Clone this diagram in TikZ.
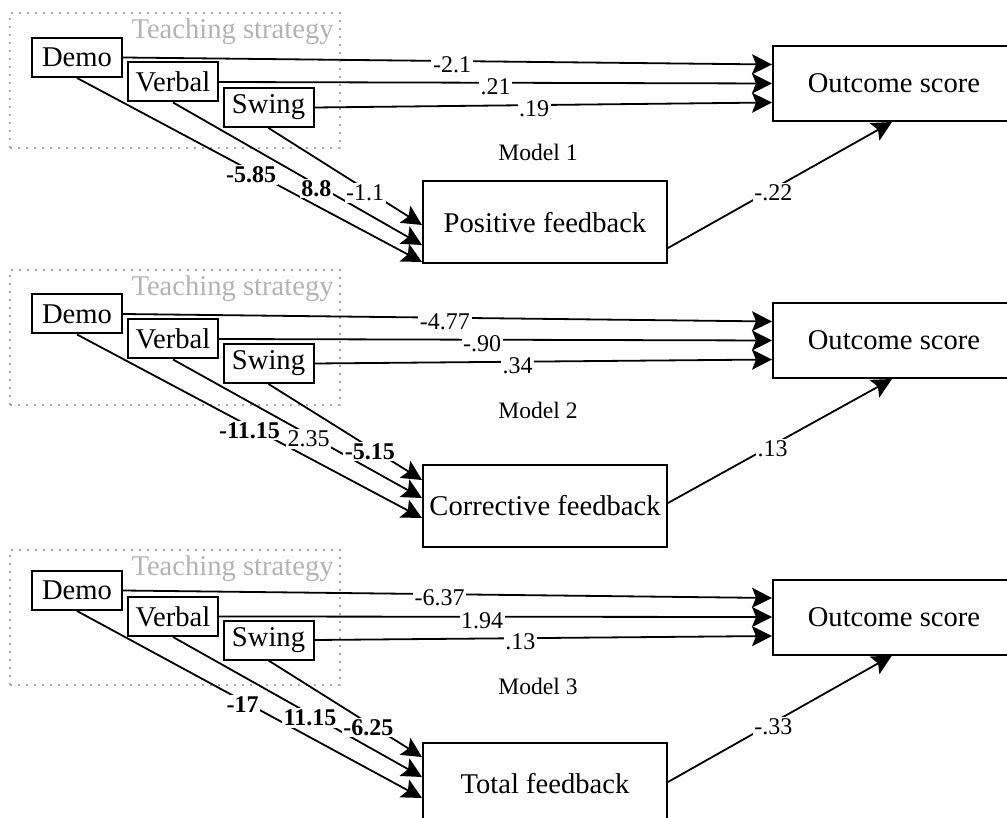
\documentclass[tikz,border=0pt]{standalone}
\usepackage{fontspec}
\setmainfont{Liberation Serif}
\usetikzlibrary{arrows.meta}
\definecolor{cgray}{HTML}{B3B3B3}
\definecolor{cdots}{HTML}{AAAAAA}

\begin{document}
\begin{tikzpicture}[
  x=0.5pt, y=-0.5pt,
  font=\fontsize{14.3}{17}\selectfont,
  >={Stealth[length=10pt, width=10pt, inset=2pt]},
  var/.style={draw, fill=white, line width=1pt, minimum width=45pt,
              minimum height=19.5pt, inner sep=0pt},
  outc/.style={draw, fill=white, line width=1pt, minimum width=121pt,
               minimum height=37.5pt, inner sep=0pt},
  fb/.style={draw, fill=white, line width=1pt, minimum width=122pt,
             minimum height=41pt, inner sep=0pt},
  grp/.style={draw=cdots, line width=1pt, dash pattern=on 1pt off 3pt,
              minimum width=165pt, minimum height=67.5pt, inner sep=0pt},
  grplbl/.style={text=cgray, anchor=base east, inner sep=0pt},
  mdl/.style={font=\fontsize{11.8}{13}\selectfont, fill=white, inner sep=1pt},
  lbl/.style={font=\fontsize{12}{13}\selectfont, fill=white,
              inner sep=0.8pt, yshift=-2pt},
  blbl/.style={lbl, font=\fontsize{12}{13}\selectfont\bfseries},
  arr/.style={->, line width=0.9pt},
]
\useasboundingbox (0,0) rectangle (1007,818);

% Model 1
\node[grp] (g1) at (175,80.5) {};
\node[grplbl] (t1) at (334,39) {Teaching strategy};
\node[var] (d1) at (77,57.5) {Demo};
\node[var] (v1) at (173,82) {Verbal};
\node[var] (s1) at (268.5,107.5) {Swing};
\node[outc] (o1) at (894,83.5) {Outcome score};
\node[fb] (f1) at (545,222.5) {Positive feedback};
\node[mdl] (m1) at (538,152) {Model 1};

\draw[arr] (d1.east) -- node[lbl, pos=0.507] {-2.1} ([yshift=9.5pt]o1.west);
\draw[arr] (v1.east) -- node[lbl, pos=0.5] {.21} (o1.west);
\draw[arr] (s1.east) -- node[lbl, pos=0.48] {.19} ([yshift=-9.5pt]o1.west);
\draw[arr] (d1.south) -- node[blbl, pos=0.505] {-5.85} ([yshift=-19.75pt]f1.west);
\draw[arr] (v1.south) -- node[blbl, pos=0.576] {8.8} ([yshift=-11.25pt]f1.west);
\draw[arr] (s1.south) -- node[lbl, pos=0.63] {-1.1} ([yshift=-1.25pt]f1.west);
\draw[arr] ([yshift=-12.75pt]f1.east) -- node[lbl, pos=0.47] {-.22} ([xshift=-1pt]o1.south);

% Model 2
\node[grp] (g2) at (175,337.5) {};
\node[grplbl] (t2) at (334,296) {Teaching strategy};
\node[var] (d2) at (77,314) {Demo};
\node[var] (v2) at (173,339) {Verbal};
\node[var] (s2) at (268.5,363.5) {Swing};
\node[outc] (o2) at (894,340.5) {Outcome score};
\node[fb] (f2) at (545,506) {Corrective feedback};
\node[mdl] (m2) at (538,410) {Model 2};

\draw[arr] (d2.east) -- node[lbl, pos=0.496] {-4.77} ([yshift=9.5pt]o2.west);
\draw[arr] (v2.east) -- node[lbl, pos=0.476] {-.90} (o2.west);
\draw[arr] (s2.east) -- node[lbl, pos=0.444] {.34} ([yshift=-9.5pt]o2.west);
\draw[arr] (d2.south) -- node[blbl, pos=0.5] {-11.15} ([yshift=-6pt]f2.west);
\draw[arr] (v2.south) -- node[lbl, pos=0.545] {2.35} ([yshift=4pt]f2.west);
\draw[arr] (s2.south) -- node[blbl, pos=0.66] {-5.15} ([yshift=13pt]f2.west);
\draw[arr] ([yshift=1.5pt]f2.east) -- node[lbl, pos=0.467] {.13} ([xshift=-1pt]o2.south);

% Model 3
\node[grp] (g3) at (175,617) {};
\node[grplbl] (t3) at (334,575) {Teaching strategy};
\node[var] (d3) at (77,590.5) {Demo};
\node[var] (v3) at (173,616.5) {Verbal};
\node[var] (s3) at (268.5,640) {Swing};
\node[outc] (o3) at (894,617) {Outcome score};
\node[fb] (f3) at (545,784) {Total feedback};
\node[mdl] (m3) at (538,686) {Model 3};

\draw[arr] (d3.east) -- node[lbl, pos=0.488] {-6.37} ([yshift=9.5pt]o3.west);
\draw[arr] (v3.east) -- node[lbl, pos=0.476] {1.94} (o3.west);
\draw[arr] (s3.east) -- node[lbl, pos=0.45] {.13} ([yshift=-9.5pt]o3.west);
\draw[arr] (d3.south) -- node[blbl, pos=0.48] {-17} ([yshift=-7pt]f3.west);
\draw[arr] (v3.south) -- node[blbl, pos=0.55] {11.15} ([yshift=3.5pt]f3.west);
\draw[arr] (s3.south) -- node[blbl, pos=0.65] {-6.25} ([yshift=13.5pt]f3.west);
\draw[arr] ([yshift=1pt]f3.east) -- node[lbl, pos=0.47] {-.33} ([xshift=-1pt]o3.south);
\end{tikzpicture}
\end{document}
